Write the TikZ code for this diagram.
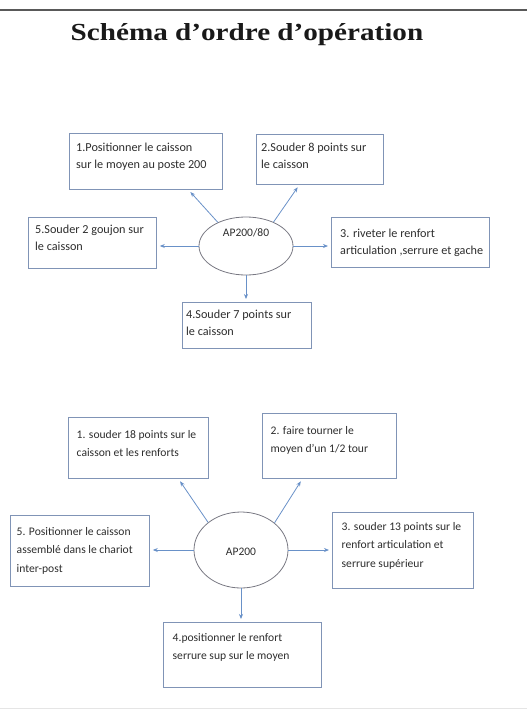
\documentclass[tikz,border=0pt]{standalone}
\usepackage{fontspec}
\setmainfont{Carlito}
\newfontfamily\titrefont{Liberation Serif}[FakeStretch=1.19]
\usetikzlibrary{shapes.geometric, arrows.meta, positioning}
\definecolor{cadre}{RGB}{128,148,182}
\definecolor{liaison}{RGB}{105,145,200}
\definecolor{contour}{RGB}{120,120,130}
\definecolor{texte}{RGB}{45,45,45}
\tikzstyle{fleche} = [liaison, line width=0.8pt, -{Stealth[length=5pt, width=4pt]}, shorten >=3pt]

\begin{document}
\begin{tikzpicture}[x=1pt, y=-1pt,
        etape/.style={draw=cadre, line width=0.8pt, anchor=north west, inner sep=0pt},
        etiquette/.style={align=left, inner sep=0pt, text=texte, font=\fontsize{12.2}{17}\selectfont},
        etiquetteB/.style={etiquette, font=\fontsize{11.6}{18.5}\selectfont},
        poste/.style={ellipse, draw=contour, line width=0.8pt, minimum width=94pt, inner sep=0pt},
        nom/.style={inner sep=0pt, text=texte, font=\fontsize{11.5}{14}\selectfont},
    ]
    \useasboundingbox (0,0) rectangle (527,710);
    \draw[line width=2pt, black!65] (0,10) -- (527,10);
    \draw[line width=0.6pt, black!10] (0,708) -- (527,708);

    \node[anchor=base, text=black!90, font=\titrefont\bfseries\fontsize{24.5}{28}\selectfont] (titre) at (247,40) {Schéma d’ordre d’opération};

    % poste 200/80
    \node[poste, minimum height=58pt] (pA) at (246,246) {};
    \node[nom] (pAnom) at (246,233) {AP200/80};

    \node[etape, minimum width=153pt, minimum height=56pt] (a1) at (69,133) {};
    \node[etape, minimum width=127pt, minimum height=50pt] (a2) at (256,134) {};
    \node[etape, minimum width=158pt, minimum height=50pt] (a3) at (331,217) {};
    \node[etape, minimum width=129pt, minimum height=46pt] (a4) at (182,302) {};
    \node[etape, minimum width=128pt, minimum height=51pt] (a5) at (28,217) {};

    \node[etiquette, below right=10pt and 7pt of a1.north west] (a1txt) {1.Positionner le caisson\\sur le moyen au poste 200};
    \node[etiquette, below right=9pt and 5pt of a2.north west] (a2txt) {2.Souder 8 points sur\\le caisson};
    \node[etiquette, below right=12pt and 9pt of a3.north west] (a3txt) {3. riveter le renfort\\articulation ,serrure et gache};
    \node[etiquette, below right=7.5pt and 4pt of a4.north west] (a4txt) {4.Souder 7 points sur\\le caisson};
    \node[etiquette, below right=8pt and 7pt of a5.north west] (a5txt) {5.Souder 2 goujon sur\\le caisson};

    \draw[fleche] (pA.140) -- ([xshift=42.5pt]a1.south);
    \draw[fleche] (pA.41) -- ([xshift=-20.5pt]a2.south);
    \draw[fleche] (pA.east) -- (pA.east -| a3.west);
    \draw[fleche] (pA.south) -- (pA.south |- a4.north);
    \draw[fleche] (pA.west) -- (pA.west -| a5.east);

    % poste 200
    \node[poste, minimum height=76pt] (pB) at (241,550) {};
    \node[nom] (pBnom) at (241,552) {AP200};

    \node[etape, minimum width=140pt, minimum height=61pt] (b1) at (68,417) {};
    \node[etape, minimum width=134pt, minimum height=65pt] (b2) at (262,413) {};
    \node[etape, minimum width=141pt, minimum height=76pt] (b3) at (332,512) {};
    \node[etape, minimum width=158pt, minimum height=65pt] (b4) at (163,622) {};
    \node[etape, minimum width=139pt, minimum height=71pt] (b5) at (10,515) {};

    \node[etiquetteB, below right=13pt and 8.5pt of b1.north west] (b1txt) {1. souder 18 points sur le\\caisson et les renforts};
    \node[etiquetteB, below right=13pt and 8.5pt of b2.north west] (b2txt) {2. faire tourner le\\moyen d’un 1/2 tour};
    \node[etiquetteB, below right=10pt and 9.5pt of b3.north west] (b3txt) {3. souder 13 points sur le\\renfort articulation et\\serrure supérieur};
    \node[etiquetteB, below right=11pt and 9.5pt of b4.north west] (b4txt) {4.positionner le renfort\\serrure sup sur le moyen};
    \node[etiquetteB, below right=12pt and 6.5pt of b5.north west] (b5txt) {5. Positionner le caisson\\assemblé dans le chariot\\inter-post};

    \draw[fleche] (pB.140) -- ([xshift=40pt]b1.south);
    \draw[fleche] (pB.39) -- ([xshift=-27pt]b2.south);
    \draw[fleche] (pB.east) -- (pB.east -| b3.west);
    \draw[fleche] (pB.south) -- (pB.south |- b4.north);
    \draw[fleche] (pB.west) -- (pB.west -| b5.east);
\end{tikzpicture}
\end{document}
